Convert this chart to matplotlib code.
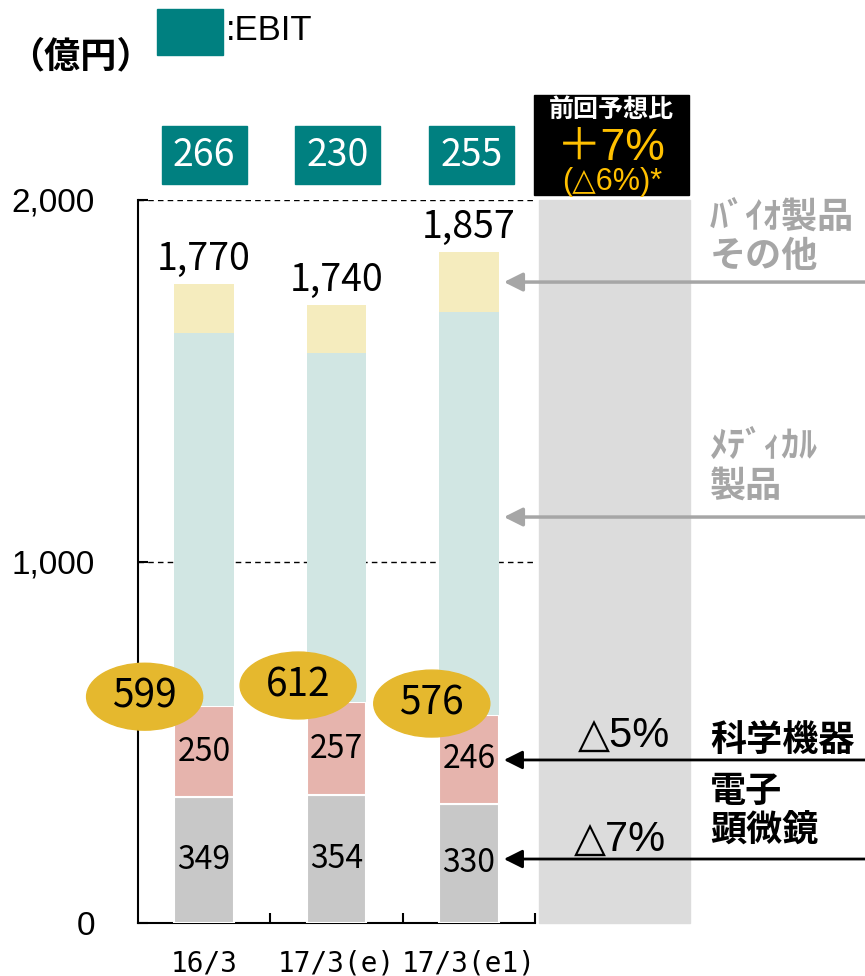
import numpy as np
import matplotlib.pyplot as plt
from matplotlib.patches import Rectangle, Ellipse

# データ (億円)
categories = ['16/3', '17/3(e)', '17/3(e1)']
em_vals = [349, 354, 330]          # 電子顕微鏡
si_vals = [250, 257, 246]          # 科学機器
subtotal = [599, 612, 576]         # 電子顕微鏡+科学機器
medical = [1033, 965, 1114]        # メディカル製品
bio_other = [136, 133, 167]        # バイオ製品その他
totals = ['1,770', '1,740', '1,857']
ebit = ['266', '230', '255']

c_em = '#c8c8c8'
c_si = '#e6b4ad'
c_med = '#d1e6e3'
c_bio = '#f5ecbe'
c_gold = '#e5b82e'
c_teal = '#008080'
c_band = '#dcdcdc'
c_lab = '#a6a6a6'

num_font = ['Liberation Sans Narrow', 'Noto Sans CJK JP']
jp_font = ['Noto Sans CJK JP', 'DejaVu Sans']
ar_font = ['Liberation Sans', 'DejaVu Sans']

fig = plt.figure(figsize=(8.65, 9.76), dpi=100)
ax = fig.add_axes([138/865, 53/976, 397/865, 723/976])

x = np.arange(len(categories))
w = 0.45
em = np.array(em_vals)
si = np.array(si_vals)
sub = np.array(subtotal)
med = np.array(medical)
bio = np.array(bio_other)

ax.bar(x, em, w, color=c_em, edgecolor='white', linewidth=1.5, zorder=3)
ax.bar(x, si, w, bottom=em, color=c_si, edgecolor='white', linewidth=1.5, zorder=3)
ax.bar(x, med, w, bottom=sub, color=c_med, edgecolor='none', zorder=3)
ax.bar(x, bio, w, bottom=sub + med, color=c_bio, edgecolor='none', zorder=3)

# 棒内ラベル
for i in range(len(x)):
    ax.text(x[i], em[i] / 2, em_vals[i], ha='center', va='center',
            fontsize=23, family=num_font, zorder=5)
    ax.text(x[i], em[i] + si[i] / 2, si_vals[i], ha='center', va='center',
            fontsize=23, family=num_font, zorder=5)
    top = sub[i] + med[i] + bio[i]
    ax.annotate(totals[i], (x[i], top), xytext=(0, 10), textcoords='offset points',
                ha='center', va='baseline', fontsize=27, family=num_font, zorder=5)

# 楕円 (電子顕微鏡+科学機器)
ell_dx = [-0.45, -0.29, -0.28]
ell_dy = [27, 45, 31]
for i in range(len(x)):
    cx, cy = x[i] + ell_dx[i], sub[i] + ell_dy[i]
    ax.add_patch(Ellipse((cx, cy), 0.877, 185, color=c_gold, zorder=6, clip_on=False))
    ax.text(cx, cy, subtotal[i], ha='center', va='center', fontsize=28,
            family=num_font, zorder=7)

# EBIT
for i in range(len(x)):
    ax.add_patch(Rectangle((x[i] - 0.32 + 0.01 * i, 2044), 0.64, 161, color=c_teal,
                           clip_on=False, zorder=4))
    ax.text(x[i] + 0.01 * i, 2124, ebit[i], ha='center', va='center', color='white',
            fontsize=27, family=num_font, zorder=5)

# 右側の帯と黒枠
ax.add_patch(Rectangle((2.53, 0), 1.14, 2000, color=c_band, clip_on=False, zorder=1))
ax.add_patch(Rectangle((2.49, 2014), 1.175, 276, color='black', clip_on=False, zorder=2))
fig.text(611/865, 1 - 110/976, '前回予想比', ha='center', va='center', color='white',
         fontsize=18, fontweight='bold', family=jp_font)
fig.text(611/865, 1 - 149/976, '＋7%', ha='center', va='center', color='#ffc000',
         fontsize=32, family=['Liberation Sans', 'Noto Sans CJK JP'])
fig.text(612/865, 1 - 182/976, '(△6%)*', ha='center', va='center', color='#ffc000',
         fontsize=22, family=ar_font)

# 矢印
tip = 2.265
arrows = [(1773, c_lab, 2.5), (1123, c_lab, 2.5), (451, 'black', 2), (177, 'black', 2)]
for y, col, lw in arrows:
    ax.annotate('', xy=(tip, y), xycoords='data',
                xytext=(1.0, y), textcoords=('figure fraction', 'data'),
                arrowprops=dict(arrowstyle='-|>', color=col, lw=lw,
                                mutation_scale=28, shrinkA=0, shrinkB=0),
                annotation_clip=False, zorder=8)

# 右側ラベル
fig.text(710/865, 1 - 237/976, 'ﾊﾞｲｵ製品\nその他', ha='left', va='center', color=c_lab,
         fontsize=26, fontweight='bold', family=jp_font, linespacing=1.1)
fig.text(710/865, 1 - 466/976, 'ﾒﾃﾞｨｶﾙ\n製品', ha='left', va='center', color=c_lab,
         fontsize=26, fontweight='bold', family=jp_font, linespacing=1.1)
fig.text(710/865, 1 - 740/976, '科学機器', ha='left', va='center', color='black',
         fontsize=26, fontweight='bold', family=jp_font)
fig.text(710/865, 1 - 811/976, '電子\n顕微鏡', ha='left', va='center', color='black',
         fontsize=26, fontweight='bold', family=jp_font, linespacing=1.1)
fig.text(670/865, 1 - 736/976, '△5%', ha='right', va='center', fontsize=30, family=ar_font)
fig.text(666/865, 1 - 840/976, '△7%', ha='right', va='center', fontsize=30, family=ar_font)

# 凡例・単位
fig.add_artist(Rectangle((157/865, 1 - 55/976), 66/865, 46/976, color=c_teal,
                         transform=fig.transFigure))
fig.text(226/865, 1 - 30/976, ':EBIT', ha='left', va='center', fontsize=25, family=ar_font)
fig.text(8/865, 1 - 57/976, '（億円）', ha='left', va='center', fontsize=26,
         fontweight='bold', family=jp_font)

# 軸
ax.set_xlim(-0.5, 2.5)
ax.set_ylim(0, 2000)
for y in [1000, 2000]:
    ax.axhline(y, color='black', lw=1, ls=(0, (4, 3)), zorder=2)
for s in ['top', 'right']:
    ax.spines[s].set_visible(False)
ax.spines['left'].set_linewidth(1.5)
ax.spines['bottom'].set_linewidth(1.5)
ax.set_xticks(x)
ax.set_xticklabels(categories, family='DejaVu Sans Mono', fontsize=20)
ax.set_xticks([0.5, 1.5, 2.5], minor=True)
ax.tick_params(axis='x', which='major', length=0, pad=19)
ax.tick_params(axis='x', which='minor', direction='in', length=7, width=1.5)
ax.set_yticks([0, 1000, 2000])
ax.set_yticklabels(['0', '1,000', '2,000'], family=ar_font, fontsize=24)
ax.tick_params(axis='y', direction='in', length=7, width=1.5, pad=31)

fig.savefig('out.png', dpi=100)
